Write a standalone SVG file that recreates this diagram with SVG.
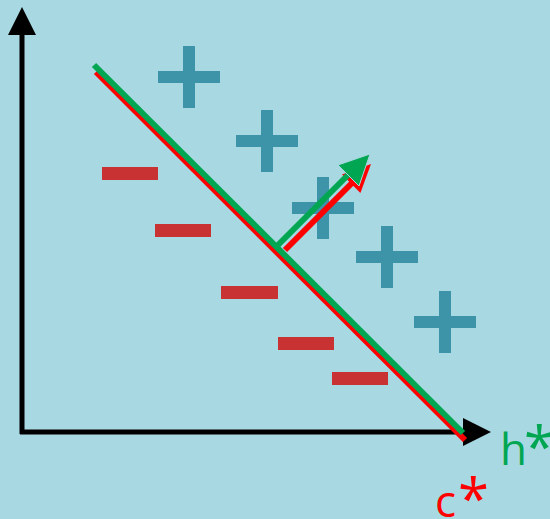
<svg xmlns="http://www.w3.org/2000/svg" width="550" height="519" viewBox="0 0 550 519">
<style>
.plus{fill:#3d93a8}
.minus{fill:#c83232}
.axis{stroke:#000;stroke-width:5;fill:none}
.g{stroke:#00a651;stroke-width:6;fill:none}
.r{stroke:#ff0000;stroke-width:6;fill:none}
.lbl{font-family:"Open Sans","DejaVu Sans",sans-serif;font-size:44px}
.ast{font-family:"Open Sans","DejaVu Sans",sans-serif;font-size:56px}
</style>
<defs>
<g id="plusShape"><rect x="-6" y="-31" width="12" height="62"/><rect x="-31" y="-6" width="62" height="12"/></g>
</defs>
<rect width="550" height="519" fill="#a8d8e2"/>
<g id="pluses" class="plus">
<use href="#plusShape" x="189" y="77"/>
<use href="#plusShape" x="267" y="141"/>
<use href="#plusShape" x="323" y="208"/>
<use href="#plusShape" x="387" y="257"/>
<use href="#plusShape" x="445" y="322"/>
</g>
<g id="minuses" class="minus">
<rect x="102" y="167" width="56" height="13"/>
<rect x="155" y="224" width="56" height="13"/>
<rect x="221" y="286" width="57" height="13"/>
<rect x="278" y="337" width="56" height="13"/>
<rect x="332" y="372" width="56" height="13"/>
</g>
<g id="axes">
<path class="axis" d="M22 434 V30"/>
<polygon points="22,7 8,35 36,35" fill="#000"/>
<path class="axis" d="M20 432 H466"/>
<polygon points="491,432 463,418 463,446" fill="#000"/>
</g>
<g id="connectors">
<path class="r" d="M96 72 L465 440"/>
<path class="g" d="M94 65 L463 433"/>
<path class="r" d="M285 250 L356 179"/>
<polygon points="371,164 342,174.6 360.4,193" fill="#ff0000"/>
<path class="g" d="M278 245 L352 171"/>
<polygon points="370,154 338,165 359,186" fill="#00a651" stroke="#a8d8e2" stroke-width="1"/>
</g>
<g id="label-h" fill="#00a651">
<text class="lbl" x="500" y="465">h</text>
<text class="ast" x="524" y="467">*</text>
</g>
<g id="label-c" fill="#ff0000">
<text class="lbl" x="435" y="517">c</text>
<text class="ast" x="458" y="519">*</text>
</g>
</svg>
